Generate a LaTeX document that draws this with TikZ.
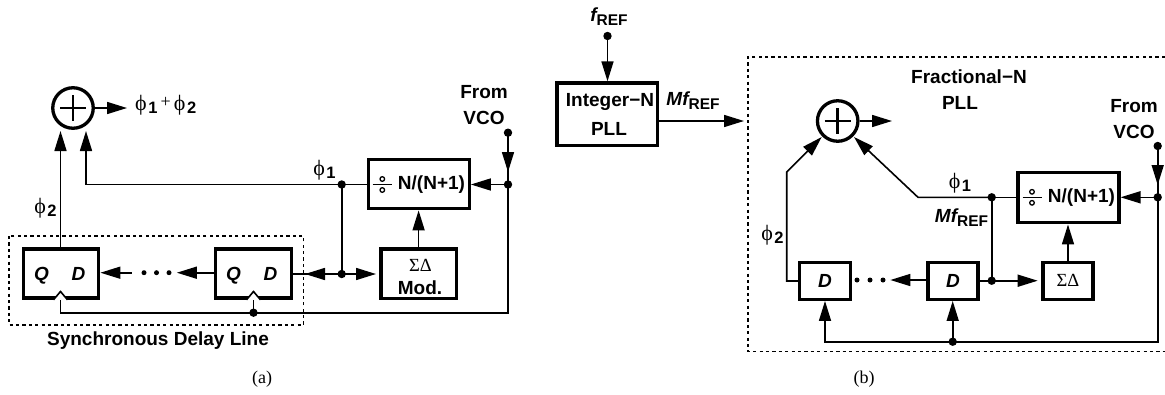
\documentclass[tikz,border=0pt]{standalone}
\usepackage{fontspec}
\setmainfont{Liberation Sans}
\newfontfamily\serf{Liberation Serif}
\usetikzlibrary{arrows.meta}
\newcommand{\fs}[1]{\fontsize{#1}{#1}\selectfont}
\newcommand{\phisym}[1]{{\serf\mdseries\fs{22}ϕ}\raisebox{-3.5pt}{\kern1.5pt\fs{16.5}\bfseries #1}}
\newcommand{\sigdel}{{\serf\mdseries\fs{18.5}ΣΔ}}
\newcommand{\bsub}[1]{\raisebox{-4pt}{\fs{15.5}\upshape\bfseries #1}}
\tikzset{
  blk/.style={draw,line width=3.3pt,fill=white,inner sep=0pt,align=center,font=\fs{19}\bfseries},
  lab/.style={inner sep=0pt,align=center,font=\fs{19}\bfseries},
  dotn/.style={circle,fill=black,draw=none,minimum size=8.4pt,inner sep=0pt},
  dotsm/.style={circle,fill=black,draw=none,minimum size=5pt,inner sep=0pt},
  add/.style={circle,draw,line width=3.3pt,minimum size=40.5pt,inner sep=0pt},
  wire/.style={line width=1.6pt},
  arr/.style={line width=1.6pt,-{Triangle[length=20pt,width=12pt]}},
  dbox/.style={line width=1.4pt,dash pattern=on 3.2pt off 3.2pt},
  clk/.style={line width=1.6pt,fill=white,line join=miter}
}
\begin{document}
\begin{tikzpicture}[x=1pt,y=-1pt]
\useasboundingbox (0,0) rectangle (1165,394);
% ---------- (a)
\draw[dbox] (9,236) rectangle (303.5,325);
\node[add] (adda) at (73,108) {};
\draw[line width=2.8pt] (60,108) -- (86,108) (73,95) -- (73,121);
\node[lab,anchor=west,inner sep=0pt] (outa) at (135,105) {\phisym{1}\,\raisebox{3pt}{\serf\mdseries\fs{18}+}\,\phisym{2}};
\node[blk,minimum width=75pt,minimum height=49pt] (qa1) at (61.25,273.5) {};
\node[lab,anchor=base] (qa1q) at (41.5,280.5) {\itshape Q};
\node[lab,anchor=base] (qa1d) at (78.5,280.5) {\itshape D};
\node[blk,minimum width=76pt,minimum height=49pt] (qa2) at (253.5,273.5) {};
\node[lab,anchor=base] (qa2q) at (233.5,280.5) {\itshape Q};
\node[lab,anchor=base] (qa2d) at (270.5,280.5) {\itshape D};
\node[blk,minimum width=101pt,minimum height=49.5pt] (na) at (418.7,184) {};
\node[lab] (naT) at (431.5,185) {N/(N+1)};
\coordinate (divA) at (382,184.5);
\node[blk,minimum width=75.5pt,minimum height=49.5pt] (sda) at (418.6,273.8) {};
\node[lab] (sdaS) at (420.5,265) {\sigdel};
\node[lab] (sdaM) at (420,288) {Mod.};
\node[dotn] (da1) at (341.7,184.5) {};
\node[dotn] (da2) at (341.7,274) {};
\node[dotn] (da3) at (508,184.5) {};
\node[dotn] (da4) at (508,132.7) {};
\node[dotn] (da5) at (253.5,312.7) {};
\node[dotsm] (ea1) at (144,272.7) {};
\node[dotsm] (ea2) at (156.5,272.7) {};
\node[dotsm] (ea3) at (169,272.7) {};
\coordinate (tipa1) at (60.5,131);
\coordinate (tipa2) at (86,131);
\coordinate (cora2) at (86,184.5);
\coordinate (outa1) at (127,108);
\coordinate (mda) at (305,274);
\coordinate (mda2) at (376,274);
\coordinate (vcoa) at (508,172);
\coordinate (cka1) at (60.5,312.7);
\coordinate (cka1t) at (60.5,299);
\coordinate (cka2t) at (253.5,299);
\coordinate (cora3) at (508,312.7);
\draw[arr] (adda.east) -- (outa1);
\draw[arr] (qa1.north -| tipa1) -- (tipa1);
\draw[arr] (da1.center) -- (cora2) -- (tipa2);
\draw[wire] (da1.center) -- (na.west |- da1);
\draw[wire] (da1.center) -- (da2.center);
\draw[wire] (qa2.east |- da2) -- (da2.center);
\draw[arr] (da2.center) -- (mda);
\draw[arr] (da2.center) -- (mda2);
\draw[arr] (da3.center) -- (na.east |- da3);
\draw[arr] (da4.center) -- (vcoa);
\draw[wire] (da4.center) -- (da3.center);
\draw[wire] (da3.center) -- (cora3) -- (cka1) -- (cka1t);
\draw[wire] (da5.center) -- (cka2t);
\draw[arr] (sda.north) -- (na.south -| sda.north);
\draw[arr] (qa2.west |- ea1) -- ++(-37,0);
\draw[arr] (131.7,272.7) -- (qa1.east |- ea1);
\draw[clk] (53.5,299.8) -- (60.5,291.5) -- (67.5,299.8);
\draw[clk] (246.5,299.8) -- (253.5,291.5) -- (260.5,299.8);
\node[lab] (pha1) at (324.5,170) {\phisym{1}};
\node[lab] (pha2) at (45.5,208) {\phisym{2}};
\node[lab] (froma) at (484,105) {From\\[7.5pt]VCO};
\node[lab] (sdl) at (158,341) {Synchronous Delay Line};
\node[lab,font=\serf\fs{18}] (capa) at (262,379) {(a)};
% ---------- (b)
\draw[dbox] (1165,57) -- (748,57) -- (748,351.7) -- (1165,351.7);
\node[lab] (fref) at (609,17) {\itshape f\bsub{REF}};
\node[dotn] (db0) at (607.5,36) {};
\node[blk,minimum width=100.7pt,minimum height=62.5pt] (intn) at (607.3,114.2) {};
\node[lab] (intT) at (610,102) {Integer−N};
\node[lab] (intP) at (609,129) {PLL};
\node[lab] (mf1) at (693,101) {\itshape Mf\bsub{REF}};
\coordinate (intout) at (744,121);
\node[add] (addb) at (837.7,121) {};
\draw[line width=2.8pt] (824.7,121) -- (850.7,121) (837.7,108) -- (837.7,134);
\node[lab] (fracn) at (969,77) {Fractional−N};
\node[lab] (fracp) at (960,103) {PLL};
\node[lab] (fromb) at (1134,119) {From\\[7.5pt]VCO};
\node[blk,minimum width=101pt,minimum height=50pt] (nb) at (1068.4,197.8) {};
\node[lab] (nbT) at (1081.5,198) {N/(N+1)};
\coordinate (divB) at (1032,197.3);
\node[blk,minimum width=50.8pt,minimum height=37pt] (db1) at (825,280.8) {\itshape D};
\node[blk,minimum width=50pt,minimum height=37pt] (db2) at (953,280.8) {\itshape D};
\node[blk,minimum width=50pt,minimum height=37pt] (sdb) at (1068,280.8) {\sigdel};
\node[dotn] (dc1) at (991.7,197.3) {};
\node[dotn] (dc2) at (991.7,280.7) {};
\node[dotn] (dc3) at (1157.7,197.3) {};
\node[dotn] (dc4) at (1157.7,146) {};
\node[dotn] (dc5) at (952.7,341.7) {};
\node[dotsm] (eb1) at (857,280) {};
\node[dotsm] (eb2) at (870,280) {};
\node[dotsm] (eb3) at (883,280) {};
\coordinate (outb) at (892,121);
\coordinate (bc1) at (786.7,281);
\coordinate (bc2) at (786.7,172);
\coordinate (bc3) at (821.7,137);
\coordinate (bc4) at (918,197.3);
\coordinate (bc5) at (854,137);
\coordinate (vcob) at (1157.7,185);
\coordinate (bc6) at (1157.7,341.7);
\coordinate (bc7) at (825,341.7);
\coordinate (mdb) at (1037.7,280.7);
\draw[arr] (db0.center) -- (intn.north -| db0);
\draw[arr] (intn.east |- intout) -- (intout);
\draw[arr] (addb.east) -- (outb);
\draw[arr] (db1.west |- bc1) -- (bc1) -- (bc2) -- (bc3);
\draw[arr] (dc1.center) -- (bc4) -- (bc5);
\draw[wire] (dc1.center) -- (nb.west |- dc1);
\draw[wire] (dc1.center) -- (dc2.center);
\draw[wire] (db2.east |- dc2) -- (dc2.center);
\draw[arr] (dc2.center) -- (mdb);
\draw[arr] (sdb.north) -- (nb.south -| sdb.north);
\draw[arr] (dc3.center) -- (nb.east |- dc3);
\draw[arr] (dc4.center) -- (vcob);
\draw[wire] (dc4.center) -- (dc3.center);
\draw[wire] (dc3.center) -- (bc6) -- (dc5.center);
\draw[arr] (dc5.center) -- (bc7) -- (db1.south);
\draw[arr] (dc5.center) -- (db2.south -| dc5);
\draw[arr] (db2.west |- eb1) -- ++(-36,0);
\node[lab] (phb1) at (960,183) {\phisym{1}};
\node[lab] (phb2) at (772.5,235) {\phisym{2}};
\node[lab] (mf2) at (961.5,218) {\itshape Mf\bsub{REF}};
\node[lab,font=\serf\fs{18}] (capb) at (864,379) {(b)};
% divide signs
\draw[line width=1.6pt] (372.5,184.5) -- (392,184.5);
\draw[line width=1.3pt] (382.3,179) circle (2.3pt) (382.3,190) circle (2.3pt);
\draw[line width=1.6pt] (1022.5,197.3) -- (1042,197.3);
\draw[line width=1.3pt] (1032,191.8) circle (2.3pt) (1032,202.8) circle (2.3pt);
\end{tikzpicture}
\end{document}
